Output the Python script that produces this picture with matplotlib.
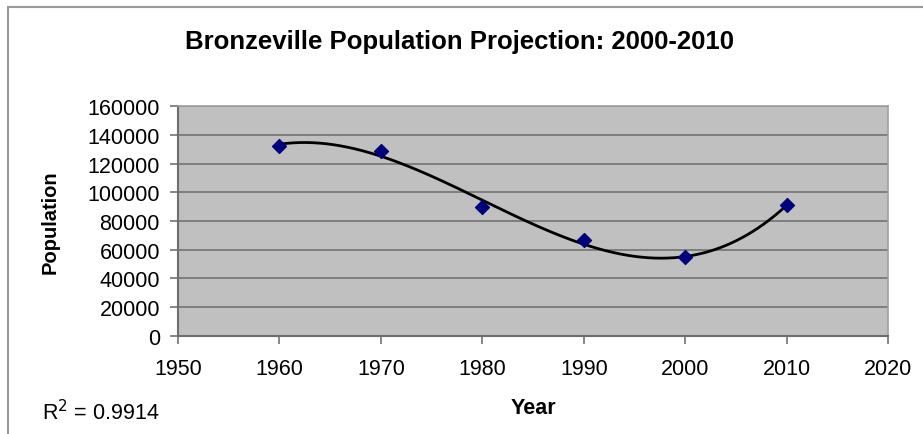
import numpy as np
import matplotlib
matplotlib.use("Agg")
import matplotlib.pyplot as plt
from matplotlib.patches import Rectangle

plt.rcParams['font.family'] = ['Liberation Sans', 'DejaVu Sans']

# data
years = [1960, 1970, 1980, 1990, 2000, 2010]
population = [132500, 128500, 89700, 66500, 55000, 90800]
yticks = [0, 20000, 40000, 60000, 80000, 100000, 120000, 140000, 160000]
xticks = [1950, 1960, 1970, 1980, 1990, 2000, 2010, 2020]

fig = plt.figure(figsize=(9.23, 4.35), dpi=100)
ax = fig.add_axes([0.1929, 0.2253, 0.7693, 0.5287])

# outer chart frame (left and top visible)
fig.patches.append(Rectangle((8 / 923, -0.1), 1.2, 1.1 - 8 / 435, transform=fig.transFigure,
                             fill=False, edgecolor='#9a9a9a', linewidth=1.5))

ax.set_facecolor('#c0c0c0')
for y in yticks[1:]:
    ax.axhline(y, color='#737373', linewidth=1.2, zorder=1)

# polynomial trendline (order 3), like Excel
xc = np.array(years) - 1985
coef = np.polyfit(xc, population, 3)
xs = np.linspace(years[0], years[-1], 300)
ax.plot(xs, np.polyval(coef, xs - 1985), color='black', linewidth=2, zorder=2)
ax.scatter(years, population, marker='D', s=50, color='#00007a', zorder=3)

ax.set_xlim(1950, 2020)
ax.set_ylim(0, 160000)
ax.set_xticks(xticks)
ax.set_yticks(yticks)
ax.tick_params(labelsize=15.5, direction='out', length=6, color='#737373', width=1.2)
ax.tick_params(axis='x', pad=10)
ax.tick_params(axis='y', pad=7)
for side in ['left', 'bottom']:
    ax.spines[side].set_color('#6e6e6e')
    ax.spines[side].set_linewidth(1.5)
for side in ['top', 'right']:
    ax.spines[side].set_color('#a0a0a0')
    ax.spines[side].set_linewidth(1.2)

fig.text(0.054, 0.49, 'Population', fontsize=14.5, fontweight='bold', rotation=90,
         ha='center', va='center')
fig.text(0.578, 0.062, 'Year', fontsize=15.5, fontweight='bold', ha='center', va='center')
fig.text(0.498, 0.903, 'Bronzeville Population Projection: 2000-2010', fontsize=18.5,
         fontweight='bold', ha='center', va='center')
fig.text(0.046, 0.051, r'R$^2$ = 0.9914', fontsize=15.5, ha='left', va='center')

fig.savefig('out.png', dpi=100)
